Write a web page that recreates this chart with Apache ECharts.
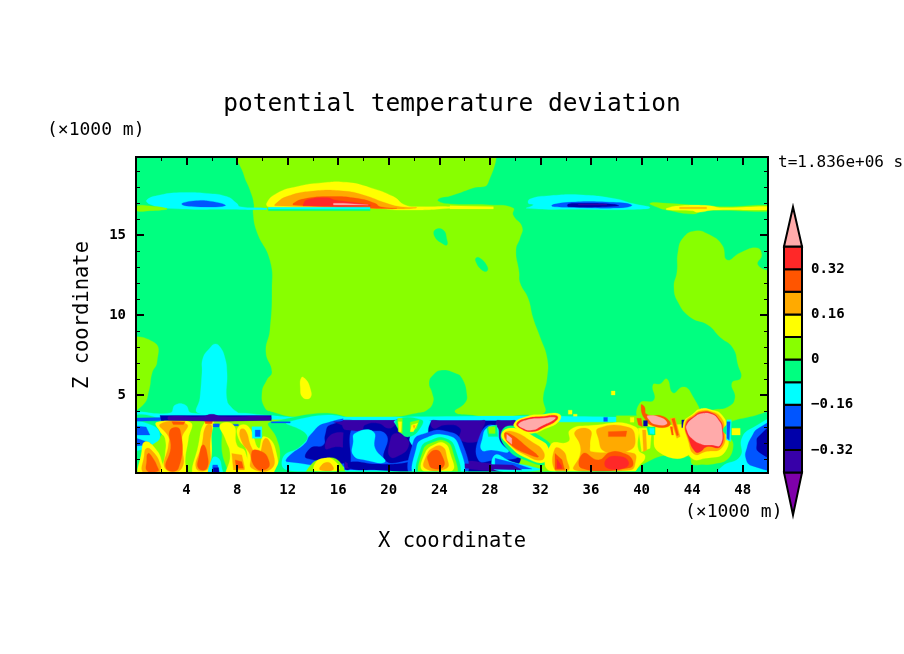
<!DOCTYPE html>
<html>
<head>
<meta charset="utf-8">
<title>potential temperature deviation</title>
<script src="https://cdn.jsdelivr.net/npm/echarts@6/dist/echarts.min.js"></script>
<style>
html, body { margin: 0; padding: 0; background: #fff; }
#main { width: 904px; height: 654px; }
</style>
</head>
<body>
<div id="main"></div>
<script>
// colour scale
var barEdges = [-0.4, -0.32, -0.24, -0.16, -0.08, 0, 0.08, 0.16, 0.24, 0.32, 0.4];
var barColors = ['#7f00aa', '#3700a8', '#0000aa', '#0055ff', '#00ffff', '#00ff80', '#88ff00', '#ffff00', '#ffaa00', '#ff5500', '#ff2828', '#ffaaaa'];
var barTicks = [-0.32, -0.16, 0, 0.16, 0.32];
var barTipLow = -0.55;
var barTipHigh = 0.54;

// axes, km
var xMajorTicks = [4, 8, 12, 16, 20, 24, 28, 32, 36, 40, 44, 48];
var xMinorTicks = [2, 6, 10, 14, 18, 22, 26, 30, 34, 38, 42, 46];
var zMajorTicks = [5, 10, 15];
var zMinorTicks = [1, 2, 3, 4, 6, 7, 8, 9, 11, 12, 13, 14, 16, 17, 18, 19];

// deviation read for each filled band
var P = 0.44, R = 0.36, Q = 0.28, O = 0.2, Y = 0.12, L = 0.04, S = -0.04, C = -0.12, B = -0.2, N = -0.28, I = -0.36;

// contour areas [value, [[x km, z km], ...]], later ones paint over earlier ones
var upperAir = [
  [S, [[0,0],[50,0],[50,20],[0,20]]],
  [L, [[8.1,20.4],[27.85,20.4],[27.85,18.25],[26.66,17.94],[24.84,17.44],[24.05,17.31],[23.89,17.13],[24.84,16.94],[28,16.88],[29.83,16.69],[29.83,16.25],[30.54,15.5],[30.38,14.81],[30.06,14.06],[30.3,12.69],[30.38,12],[31.01,11.06],[31.41,9.81],[31.96,8.63],[32.52,7.31],[32.52,6.06],[32.2,4.81],[32.28,3.88],[30.38,3.75],[28.56,3.56],[26.66,3.75],[25.24,3.94],[26.03,4.5],[26.19,5],[25.79,6.06],[25.24,6.38],[24.21,6.56],[23.5,6.25],[23.18,5.75],[23.42,5.13],[23.5,4.56],[23.02,4.06],[22.23,3.88],[20.09,3.63],[12.74,3.63],[10.84,3.94],[10.21,4.19],[9.97,5.13],[10.36,5.94],[10.76,6.44],[10.28,7.69],[10.6,9.06],[10.76,11.56],[10.6,13.44],[9.57,15.19],[9.26,16.44],[9.34,16.88],[9.02,17.81],[8.54,18.75]]],
  [L, [[-.6,8.31],[1.5,8.25],[1.66,7.06],[1.27,6.38],[1.03,5.31],[.55,4.38],[-.6,4.06]]],
  [S, [[23.65,15.31],[24.3,15.31],[24.6,14.69],[24.6,14.38],[24.3,14.44],[23.65,14.88]]],
  [S, [[26.9,13.56],[27.2,13.56],[27.77,13.06],[27.77,12.75],[27.37,12.81],[26.9,13.31]]],
  [L, [[44.22,15.25],[43.28,14.81],[42.88,13.94],[42.8,12.69],[42.56,11.75],[42.88,10.81],[43.83,9.88],[45.25,9.38],[46.2,8.63],[47.23,7.94],[47.63,6.88],[47.86,6.06],[47.15,5.75],[47.39,4.81],[46.84,4.25],[45.65,4.06],[44.38,3.75],[50.6,3.69],[50.6,12.31],[49.2,13.13],[49.5,13.75],[49.13,14.19],[47.78,13.88],[46.76,13.44],[46.36,14.38],[45.25,15.06]]],
  [L, [[39.87,4.5],[40.98,4.69],[40.9,5.63],[41.46,5.69],[42,6],[42.48,5.13],[43.28,5.5],[43.9,5.13],[44.38,3.75],[39.87,3.56]]],
  [Y, [[13.1,6.1],[13.4,6.0],[13.75,5.5],[13.8,4.85],[13.2,4.85],[13,5.5]]],
  [Y, [[37.6,5.25],[37.9,5.25],[37.9,5],[37.6,5]]],
  [Y, [[34.2,4.05],[34.5,4.05],[34.5,3.8],[34.2,3.8]]],
  [Y, [[34.6,3.8],[34.9,3.8],[34.9,3.6],[34.6,3.6]]],
  [C, [[4.9,3.88],[5.06,4.81],[5.22,6.38],[5.3,7.31],[5.85,7.94],[6.25,8.19],[6.65,8],[7.04,7.31],[7.2,6.38],[7.2,4.69],[7.59,4.19],[8,3.88]]]
];

var jetStream = [
  [C, [[.85,17.19],[1.9,17.5],[3.75,17.65],[5.6,17.6],[7.18,17.4],[7.97,16.98],[8.23,16.77],[10.34,16.67],[10.34,16.6],[8.23,16.6],[2.43,16.67],[1.11,16.92]]],
  [B, [[3.62,16.92],[4.54,17.13],[6.12,17.08],[7.05,16.83],[4.8,16.77]]],
  [L, [[.06,16.81],[1.11,16.81],[2.43,16.67],[2.43,16.6],[1.11,16.52],[.06,16.52]]],
  [S, [[10.47,16.67],[18.52,16.67],[18.52,16.52],[10.47,16.52]]],
  [Y, [[10.34,16.98],[11.13,17.6],[12.71,18.02],[14.82,18.27],[16.67,18.29],[18.52,17.96],[20.36,17.4],[21.28,16.88],[22.47,16.77],[24.84,16.77],[24.84,16.67],[21.15,16.56],[18.65,16.67],[10.6,16.73]]],
  [O, [[11,16.92],[11.92,17.4],[14.03,17.75],[16.41,17.75],[17.99,17.5],[19.84,16.98],[20.89,16.77],[22.21,16.71],[20.89,16.63],[18.78,16.67],[11,16.83]]],
  [Q, [[12.45,16.98],[13.24,17.25],[15.35,17.4],[17.46,17.29],[18.91,16.98],[19.31,16.77],[20.63,16.67],[18.65,16.67],[12.45,16.88]]],
  [R, [[13.24,16.92],[13.51,17.19],[15.09,17.33],[15.75,17.19],[17.72,16.98],[18.52,16.83],[13.24,16.83]]],
  [P, [[15.62,16.98],[16.41,16.98],[18.38,16.88],[15.62,16.88]]],
  [C, [[10.47,16.73],[18.52,16.73],[18.52,16.62],[10.47,16.62]]],
  [Y, [[24.84,16.83],[28.27,16.77],[28.27,16.63],[24.84,16.63]]],
  [C, [[31.04,16.98],[31.17,17.25],[32.75,17.46],[35.39,17.5],[38.03,17.25],[39.21,16.98],[40.66,16.71],[39.08,16.6],[35.92,16.6],[30.91,16.67],[31.43,16.88]]],
  [B, [[32.88,16.83],[34.2,17.04],[37.76,17.04],[39.21,16.88],[38.55,16.71],[34.2,16.73]]],
  [N, [[34.2,16.94],[34.99,16.98],[37.76,16.92],[38.16,16.81],[34.2,16.77]]],
  [I, [[34.99,16.94],[37.24,16.94],[37.24,16.88],[34.99,16.88]]],
  [L, [[40.66,16.98],[41.98,16.98],[46.2,16.77],[50.6,16.83],[50.6,16.52],[44.89,16.52],[44.1,16.31],[41.98,16.56],[41.45,16.67]]],
  [Y, [[41.98,16.67],[43.04,16.83],[45.41,16.83],[46.2,16.71],[50.6,16.77],[50.6,16.6],[45.67,16.56],[44.49,16.42],[43.96,16.52],[41.98,16.58]]],
  [O, [[43,16.73],[45.14,16.73],[45.14,16.65],[43,16.65]]]
];

// boundary layer, west part
var lowerWest = [
  [C, [[-.6,3.88],[2.69,3.88],[3.1,4.38],[3.9,4.38],[4.4,3.88],[8,3.88],[10.2,3.75],[12.7,3.62],[38,3.62],[38,3.25],[-.6,3.35]]],
  [L, [[0,.125],[17,.125],[17,3.45],[0,3.45]]],
  [S, [[-.6,3.4],[2.2,3.4],[2,2.5],[1,1.9],[.4,1.2],[.6,-.2],[-.6,-.2]]],
  [C, [[-.6,3.2],[1.3,3.1],[1.9,2.4],[1.3,1.9],[.5,1.6],[-.6,1.6]]],
  [B, [[-.6,3.1],[.8,3],[1.1,2.5],[-.6,2.5]]],
  [B, [[-.6,2.3],[.8,2.1],[1.2,1.9],[.5,1.85],[-.6,1.9]]],
  [Y, [[.72,2.08],[1.51,1.67],[2.04,.83],[2.17,-.2],[.32,-.2],[.45,1.46]]],
  [O, [[.85,1.67],[1.4,1.4],[1.9,.7],[1.95,.125],[.6,.125],[.65,1.2]]],
  [Q, [[.95,1.35],[1.3,1.1],[1.7,.5],[1.75,.25],[.9,.25],[.85,.9]]],
  [Y, [[1.64,3.29],[4.28,3.29],[4.15,2.29],[3.89,.83],[4.02,-.2],[2.04,-.2],[2.3,1.25],[2.3,2.29],[1.91,2.71]]],
  [O, [[1.91,3.17],[4.02,3.17],[3.62,2.29],[3.62,.42],[2.3,.42],[2.57,1.88],[2.57,2.4]]],
  [Q, [[2.7,2.81],[3.49,2.81],[3.36,.42],[2.38,.42],[2.75,1.67]]],
  [Q, [[2.83,3.33],[3.89,3.33],[3.75,3.15],[2.96,3.15]]],
  [Y, [[5.47,3.33],[6.13,3.33],[6.13,2.29],[5.87,-.2],[4.55,-.2],[4.94,1.88]]],
  [O, [[5.55,3.08],[5.99,3.08],[5.87,2.08],[5.73,.42],[4.76,.42],[5.21,1.88]]],
  [Q, [[4.94,.42],[5.6,.42],[5.6,1.46],[5.29,1.88],[5.02,1.25]]],
  [Q, [[5.4,3.45],[6.1,3.45],[6,3.2],[5.5,3.2]]],
  [S, [[6.13,3.02],[6.66,3.02],[6.79,1.46],[7.19,-.2],[5.87,-.2],[6,1.25]]],
  [C, [[6.05,1.04],[6.53,1.04],[6.79,.42],[6.87,-.2],[5.81,-.2]]],
  [B, [[6.08,.63],[6.45,.63],[6.71,-.2],[5.94,-.2]]],
  [N, [[6.13,.46],[6.53,.46],[6.6,-.2],[6.08,-.2]]],
  [B, [[6.1,3.2],[6.6,3.2],[6.6,3],[6.1,3]]],
  [B, [[7.4,3.17],[8.1,3.17],[8.1,3.07],[7.4,3.07]]],
  [Y, [[6.66,3.13],[7.71,3.13],[7.98,1.88],[8.64,1.46],[8.77,-.2],[7.19,-.2],[7.45,1.25],[7.05,2.29]]],
  [O, [[7.58,1.35],[8.37,1.25],[8.64,.32],[7.71,.32]]],
  [Q, [[7.85,.94],[8.37,.83],[8.5,.42],[7.93,.42]]],
  [Y, [[8.11,3.02],[8.9,3.02],[9.7,1.67],[10.09,2.4],[11.01,1.67],[10.88,-.2],[8.77,-.2],[8.77,1.46],[8.11,2.29]]],
  [O, [[8.24,2.81],[8.64,2.81],[9.17,1.67],[9.69,1.25],[10.22,2.29],[10.75,1.67],[10.75,.42],[9.17,.42],[9.03,1.25],[8.37,2.08]]],
  [Q, [[9.17,1.46],[9.96,1.46],[10.49,.94],[10.41,.42],[9.51,.42]]],
  [C, [[9.17,3.02],[9.96,3.02],[9.96,2.29],[9.2,2.29]]],
  [B, [[9.43,2.81],[9.83,2.81],[9.83,2.4],[9.43,2.4]]],
  [S, [[10.62,3.29],[17.4,3.29],[17.4,-.2],[11.14,-.2],[11.41,1.25],[11.14,2.29]]],
  [C, [[11.94,3.29],[17.4,3.29],[17.4,.32],[11.94,.32],[11.67,1.15],[12.99,1.77],[13.52,2.5]]],
  [B, [[14.97,3.23],[17.4,3.23],[17.4,.83],[11.94,.83],[12.07,1.15],[13.39,1.98],[13.79,2.5]]],
  [N, [[15.37,3.13],[17.4,3.13],[17.4,1.04],[13.52,1.04],[13.79,1.67],[14.84,1.88],[14.97,2.5]]],
  [I, [[15.63,3.33],[17.4,3.33],[17.4,3.02],[16.29,3.13]]],
  [I, [[15.63,2.6],[17.4,2.29],[17.4,1.67],[15.9,1.77],[14.97,1.67]]],
  [L, [[13.8,.6],[14.8,1],[16,.9],[16.4,-.2],[13.5,-.2]]],
  [Y, [[14.18,.73],[14.84,1.04],[15.63,.94],[16.03,.32],[14.18,.25]]],
  [O, [[14.58,.52],[15.1,.79],[15.5,.63],[15.58,.32],[14.58,.32]]],
  [B, [[-.6,3.55],[2.2,3.6],[2.2,3.4],[-.6,3.35]]],
  [B, [[10.7,3.33],[12.2,3.33],[12.2,3.25],[10.7,3.25]]],
  [N, [[1.9,3.72],[10.7,3.72],[10.7,3.4],[2,3.4]]],
  [I, [[2.6,3.65],[5.2,3.65],[6,3.8],[6.8,3.65],[10.6,3.65],[10.6,3.44],[2.6,3.44]]]
];

// boundary layer, middle part
var lowerMiddle = [
  [L, [[29.5,.125],[47.8,.125],[47.8,3.3],[29.5,3.3]]],
  [L, [[38,3.2],[47.8,3.2],[47.8,3.7],[38,3.7]]],
  [C, [[16.9,.125],[30,.125],[30,.4],[16.9,.4]]],
  [B, [[16.5,.32],[30,.32],[30,3.4],[16.5,3.4]]],
  [N, [[16.53,3.38],[17,3.38],[20.2,3.38],[20.62,3.38],[20.89,2.6],[21.81,2.29],[21.94,1.25],[21.55,.94],[19.7,.94],[19.83,2.5],[18.11,2.81],[17.06,2.92],[16.93,.42],[16.53,.42]]],
  [I, [[16.4,3.44],[17,3.44],[20.3,3.44],[20.75,3.44],[20.49,3.13],[19.96,2.92],[19.17,3.23],[18.11,3.13],[17.85,2.81],[16.79,2.81],[16.4,2.92]]],
  [C, [[16.4,3.45],[20.6,3.45],[20.6,3.62],[16.4,3.62]]],
  [I, [[20.49,2.6],[21.41,2.29],[21.55,1.77],[20.89,1.25],[20.09,1.15],[20.09,2.08]]],
  [I, [[16.53,.83],[17,.6],[17.06,.42],[16.53,.42]]],
  [C, [[17.32,2.6],[18.77,2.71],[18.91,1.67],[19.7,.83],[18.11,.94],[17.19,1.25],[17.19,2.08]]],
  [N, [[16.9,.8],[19,.68],[21,.72],[22.6,.95],[22.6,.3],[19,.32],[16.9,.42]]],
  [C, [[20.49,3.4],[23.26,3.4],[22.87,2.29],[22.2,1.77],[21.68,2.08],[21.68,2.6],[21.28,2.71]]],
  [S, [[20.62,3.44],[22.6,3.44],[22.47,2.92],[21.68,2.4],[21.02,2.6]]],
  [L, [[20.7,3.54],[21.07,3.54],[21.07,2.6],[20.75,2.71]]],
  [L, [[21.7,3.3],[22.4,3.44],[22.2,2.9],[21.7,2.7]]],
  [Y, [[20.75,3.33],[21.02,3.33],[20.97,2.71],[20.83,2.71]]],
  [Y, [[21.81,3.13],[22.28,3.23],[21.94,2.71],[21.7,2.71]]],
  [O, [[21.9,3.1],[22.1,3.1],[22,2.9]]],
  [N, [[23.39,3.38],[24,3.38],[29.6,3.38],[30,3.38],[30,.42],[25.9,.32],[25.77,1.88],[24.45,2.6],[23.26,2.5]]],
  [I, [[23.39,3.4],[24,3.4],[27.2,3.4],[27.62,3.4],[27.35,2.71],[27.35,2.19],[25.64,2.19],[25.64,2.92],[24.45,3.13],[23.52,2.92]]],
  [I, [[26.03,.83],[27.88,.73],[30,.63],[30.52,.32],[26.03,.42]]],
  [I, [[28.54,3.4],[29,3.4],[29.7,3.4],[30,3.4],[29.73,2.81],[29.2,2.6],[28.94,2.29],[28.54,2.4]]],
  [C, [[22.9,3.45],[30,3.45],[30,3.62],[22.9,3.62]]],
  [B, [[27.22,2.5],[28.14,3.13],[28.67,2.29],[29.2,1.77],[30.26,1.15],[28.41,.94],[27.09,.94]]],
  [C, [[27.41,2.29],[27.75,2.92],[28.54,3.02],[28.81,2.08],[29.47,1.46],[28.14,1.56],[27.35,1.56]]],
  [S, [[27.75,2.92],[28.54,3.13],[28.62,2.4],[27.88,2.4]]],
  [L, [[27.88,3.02],[28.41,3.02],[28.41,2.6],[27.93,2.6]]],
  [B, [[21.94,2.08],[22.87,2.6],[24.45,2.75],[25.77,2.08],[25.9,-.2],[21.94,-.2]]],
  [C, [[22.2,1.77],[22.87,2.29],[24.45,2.5],[25.51,1.88],[25.64,-.2],[22.2,-.2]]],
  [S, [[22.55,1.67],[23.39,2.19],[24.45,2.29],[25.24,1.67],[25.37,-.2],[22.47,-.2]]],
  [L, [[22.73,1.56],[23.52,2.04],[24.45,2.13],[25.03,1.56],[25.19,-.2],[22.6,-.2]]],
  [Y, [[22.87,1.36],[23.66,1.92],[24.4,1.98],[24.85,1.36],[24.98,.25],[22.73,.25]]],
  [O, [[23,1.25],[23.52,1.71],[24.24,1.77],[24.58,1.15],[24.58,.42],[22.87,.42]]],
  [Q, [[23.13,1.25],[23.79,1.56],[24.24,1.15],[24.32,.52],[23.45,.42],[23.13,.83]]],
  [C, [[28.41,1.25],[29.73,.83],[31.31,.52],[32.1,.32],[28.41,.32]]],
  [B, [[28.41,1.04],[30,.73],[31.31,.38],[28.41,.38]]],
  [I, [[26.03,.7],[29.8,.62],[30.52,.32],[26.03,.42]]],
  [S, [[28.94,2.75],[30,3.05],[32.4,2.2],[32.9,1.5],[32.6,.7],[30.9,.9],[29.3,1.7]]],
  [Y, [[28.94,2.6],[30,2.92],[31.71,2.29],[32.63,1.67],[32.37,.83],[30.92,1.04],[29.47,1.88]]],
  [O, [[29.15,2.6],[29.86,2.71],[31.31,2.08],[32.24,1.46],[32.1,.94],[30.92,1.21],[29.47,1.98]]],
  [Q, [[29.15,2.6],[29.73,2.5],[30.92,1.77],[31.84,1.15],[31.18,1.25],[29.6,1.92]]],
  [P, [[29.33,2.54],[29.73,2.29],[29.73,1.92],[29.33,2.19]]],
  [Y, [[29.9,3.2],[30.9,3.65],[32.1,3.78],[33.5,3.8],[33.45,3.35],[32.4,2.9],[31.3,2.6],[30.3,2.8]]],
  [R, [[30.13,3.23],[30.92,3.54],[32.1,3.65],[33.29,3.71],[33.29,3.44],[32.37,3.02],[31.31,2.71],[30.39,2.92]]],
  [P, [[30.26,3.17],[30.92,3.44],[32.1,3.54],[33.16,3.6],[33.03,3.44],[32.24,3.13],[31.31,2.81],[30.52,2.96]]]
];

// boundary layer, east part
var lowerEast = [
  [Y, [[34.34,2.81],[35.79,3.08],[39.49,3.02],[39.75,1.56],[40.28,1.15],[39.75,.52],[39.49,.25],[32.8,.25],[32.8,1.88],[34.21,2.09]]],
  [O, [[34.73,2.71],[35.92,2.81],[35.92,1.88],[36.05,1.46],[39.35,1.36],[39.49,.73],[39.09,.31],[34.73,.31],[35.13,1.25],[35.13,1.88]]],
  [O, [[36.58,2.92],[38.96,2.98],[39.49,2.29],[39.09,1.56],[37.11,1.46],[36.58,2.29]]],
  [Q, [[37.37,2.71],[38.83,2.75],[38.75,2.4],[37.37,2.4]]],
  [Q, [[35.4,1.36],[36.58,.94],[37.51,1.42],[38.56,1.36],[39.27,.94],[39.09,.46],[35.26,.42]]],
  [R, [[37.24,1],[38.3,1.15],[38.96,.83],[38.7,.46],[37.24,.46]]],
  [O, [[33.15,1.65],[33.8,1.5],[34.1,.9],[34.2,.3],[33.15,.3]]],
  [Q, [[33.15,1.35],[33.7,.95],[33.9,.35],[33.15,.35]]],
  [R, [[33.3,1],[33.65,.6],[33.7,.4],[33.3,.4]]],
  [S, [[39.49,.17],[40.28,.73],[42.13,1.25],[43.71,1.15],[44.1,.63],[47.94,.73],[48.07,-.2],[39.49,-.2]]],
  [Y, [[39.75,2.92],[40.81,2.92],[40.67,1.67],[40,1.46]]],
  [O, [[40.07,2.82],[40.33,2.82],[40.41,1.56],[40.15,1.46]]],
  [Y, [[40.28,3.13],[42.13,3.13],[43.71,2.92],[43.71,1.25],[41.33,1.46],[40.81,2.92]]],
  [Q, [[39.96,4.38],[40.22,4.27],[40.41,3.79],[41.73,3.65],[42.26,3.13],[41.07,3.02],[40.22,3.54]]],
  [P, [[40.49,3.71],[41.65,3.54],[41.99,3.19],[41.07,3.17],[40.54,3.5]]],
  [O, [[42.26,3.54],[42.65,3.58],[43.05,2.4],[42.79,2.29]]],
  [Q, [[42.39,3.5],[42.6,3.54],[42.92,2.5],[42.79,2.46]]],
  [Q, [[42.26,3.02],[42.44,3.02],[42.52,2.5],[42.39,2.5]]],
  [Q, [[39.62,3.54],[39.96,3.54],[40.07,3.02],[39.75,3.13]]],
  [Y, [[39.1,3.6],[39.4,3.6],[39.4,3.3],[39.1,3.3]]],
  [N, [[40.15,3.4],[40.46,3.4],[40.46,3.06],[40.15,3.06]]],
  [S, [[40.41,3],[41.07,3],[41.07,2.5],[40.54,2.5]]],
  [C, [[40.62,2.92],[40.99,2.92],[40.99,2.56],[40.67,2.6]]],
  [N, [[43.18,3.44],[43.5,3.44],[43.5,2.96],[43.18,2.96]]],
  [B, [[43.71,3.4],[43.92,3.4],[43.92,3.13],[43.71,3.13]]],
  [B, [[37,3.6],[37.3,3.6],[37.3,3.35],[37,3.35]]],
  [Y, [[43.31,3.23],[43.58,1.98],[43.97,1.04],[45.03,1.04],[46.61,1.46],[46.75,2.92],[46.35,3.75],[45.56,4.06],[44.64,4.13],[44.03,3.79]]],
  [O, [[43.45,3.23],[43.71,2.09],[44.18,1.3],[45.03,1.46],[46.35,1.71],[46.56,2.92],[46.22,3.65],[45.56,3.96],[44.72,4.02],[44.1,3.75]]],
  [R, [[43.5,3.17],[43.71,2.29],[44.24,1.46],[44.64,1.46],[45.16,1.77],[46.22,1.77],[46.43,2.92],[46.08,3.54],[45.56,3.88],[44.77,3.94],[44.19,3.71]]],
  [P, [[43.58,3.13],[44.24,3.65],[44.77,3.85],[45.56,3.79],[46.08,3.44],[46.35,2.92],[46.22,1.88],[45.56,1.88],[44.77,1.92],[43.97,2.29],[43.58,2.81]]],
  [S, [[46.48,2.92],[48.99,3.71],[50.6,3.75],[50.6,-.2],[44.24,-.2],[44.24,.52],[46.35,.73],[47.27,1.88]]],
  [C, [[47.93,2.29],[48.72,2.92],[50.6,3.38],[50.6,-.2],[45.82,-.2],[46.35,.52],[47.8,1.15]]],
  [B, [[48.72,2.4],[49.25,2.92],[50.6,3.23],[50.6,.52],[48.72,.58],[48.25,1.04],[48.33,1.67]]],
  [N, [[49.25,2.4],[50.6,3.08],[50.6,1.15],[49.25,1.46],[49.12,1.98]]],
  [C, [[46.75,3.45],[47.1,3.45],[47.05,2.1],[46.7,2.2]]],
  [B, [[46.75,3.33],[47.01,3.33],[46.93,2.19],[46.75,2.29]]],
  [Y, [[47.14,2.92],[47.8,2.92],[47.8,2.5],[47.14,2.5]]],
  [S, [[11,.125],[42,.125],[42,.22],[11,.22]]]
];

var contours = upperAir.concat(jetStream, lowerWest, lowerMiddle, lowerEast);

var fontName = '"DejaVu Sans Mono", monospace';

function colorOf(v) {
  var i = 0;
  while (i < barEdges.length && v >= barEdges[i]) i++;
  return barColors[i];
}

function frameAxis(side, ticks, len, width, extra) {
  var ax = {
    type: 'value',
    position: side,
    z: 10,
    axisLine: { show: true, onZero: false, lineStyle: { color: '#000', width: 2 } },
    axisTick: { show: true, inside: true, customValues: ticks, length: len, lineStyle: { color: '#000', width: width } },
    axisLabel: { show: false },
    splitLine: { show: false }
  };
  return Object.assign(ax, extra);
}

function noteTitle(text, left, top, size, weight) {
  return {
    text: text, left: left, top: top, padding: 0,
    textStyle: { fontFamily: fontName, fontWeight: weight, fontSize: size, color: '#000' }
  };
}

var xRange = { min: 0, max: 50 };
var zRange = { min: 0.125, max: 19.875 };

var labelStyle = { show: true, color: '#000', fontFamily: fontName, fontSize: 14, fontWeight: 'bold', margin: 10 };

var option = {
  animation: false,
  backgroundColor: '#fff',
  title: [
    { text: 'potential temperature deviation', left: 452, top: 92, padding: 0, textAlign: 'center', textStyle: { fontFamily: fontName, fontWeight: 'normal', fontSize: 24.5, color: '#000' } },
    noteTitle('(×1000 m)', 47, 121, 18, 'normal'),
    noteTitle('(×1000 m)', 685, 503, 18, 'normal'),
    noteTitle('t=1.836e+06 s', 778, 155, 16, 'normal')
  ],
  grid: [
    { left: 136, top: 157, width: 632, height: 316 },
    { left: 784, top: 207, width: 18, height: 308 }
  ],
  xAxis: [
    frameAxis('bottom', xMajorTicks, 8, 2, Object.assign({}, xRange, {
      name: 'X coordinate', nameLocation: 'middle', nameGap: 58,
      nameTextStyle: { fontFamily: fontName, fontSize: 20.5, color: '#000' },
      axisLabel: Object.assign({ customValues: xMajorTicks }, labelStyle)
    })),
    frameAxis('bottom', xMinorTicks, 4, 1, xRange),
    frameAxis('top', xMajorTicks, 8, 2, xRange),
    frameAxis('top', xMinorTicks, 4, 1, xRange),
    { type: 'value', gridIndex: 1, min: 0, max: 1, show: false }
  ],
  yAxis: [
    frameAxis('left', zMajorTicks, 8, 2, Object.assign({}, zRange, {
      name: 'Z coordinate', nameLocation: 'middle', nameRotate: 90, nameGap: 43,
      nameTextStyle: { fontFamily: fontName, fontSize: 20.5, color: '#000' },
      axisLabel: Object.assign({ customValues: zMajorTicks }, labelStyle)
    })),
    frameAxis('left', zMinorTicks, 4, 1, zRange),
    frameAxis('right', zMajorTicks, 8, 2, zRange),
    frameAxis('right', zMinorTicks, 4, 1, zRange),
    {
      type: 'value', gridIndex: 1, position: 'right', min: barTipLow, max: barTipHigh,
      axisLine: { show: false }, axisTick: { show: false }, splitLine: { show: false },
      axisLabel: Object.assign({}, labelStyle, {
        margin: 9, customValues: barTicks,
        formatter: function (v) { return v === 0 ? '0' : String(v).replace('-', '\u2212'); }
      })
    }
  ],
  series: [
    {
      type: 'custom',
      coordinateSystem: 'cartesian2d',
      xAxisIndex: 0,
      yAxisIndex: 0,
      clip: true,
      silent: true,
      data: contours.map(function (c, i) { return [i, c[0]]; }),
      renderItem: function (params, api) {
        var c = contours[api.value(0)];
        var col = colorOf(c[0]);
        return {
          type: 'polygon',
          // round off contours, plain boxes stay as they are
          shape: { points: c[1].map(function (p) { return api.coord(p); }), smooth: c[1].length > 4 ? 0.5 : 0 },
          style: { fill: col, stroke: col, lineWidth: 0.3 }
        };
      }
    },
    {
      type: 'custom',
      coordinateSystem: 'cartesian2d',
      xAxisIndex: 4,
      yAxisIndex: 4,
      silent: true,
      data: barColors.map(function (col, i) { return [i]; }),
      renderItem: function (params, api) {
        var i = api.value(0);
        var low = i === 0 ? barTipLow : barEdges[i - 1];
        var high = i === barEdges.length ? barTipHigh : barEdges[i];
        var pts;
        if (i === 0) pts = [[0, high], [1, high], [0.5, low]];
        else if (i === barEdges.length) pts = [[0, low], [1, low], [0.5, high]];
        else pts = [[0, low], [1, low], [1, high], [0, high]];
        return {
          type: 'polygon',
          shape: { points: pts.map(function (p) { return api.coord(p); }) },
          style: { fill: barColors[i], stroke: '#000', lineWidth: 2 }
        };
      }
    }
  ]
};

var chart = echarts.init(document.getElementById('main'));
chart.setOption(option);
</script>
</body>
</html>
